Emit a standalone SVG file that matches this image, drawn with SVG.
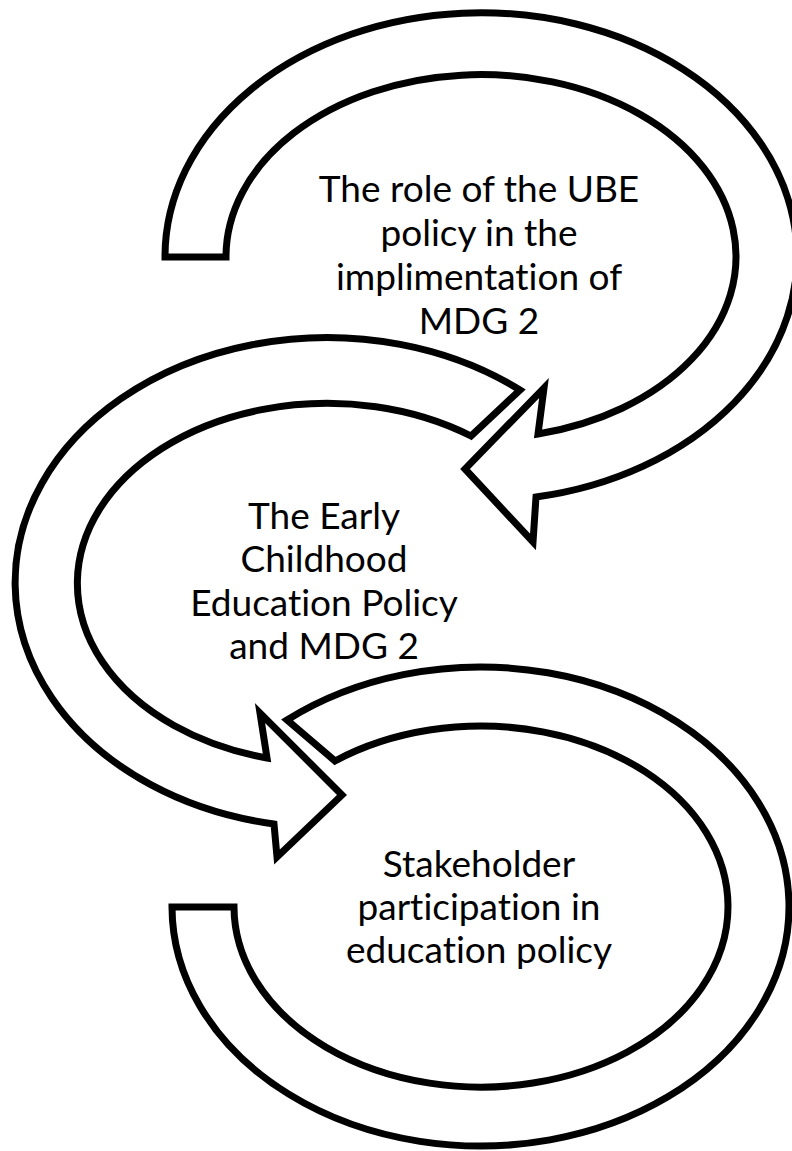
<svg xmlns="http://www.w3.org/2000/svg" width="792" height="1151" viewBox="0 0 792 1151">
<style>
.arrow{fill:#fff;stroke:#000;stroke-width:7;stroke-linejoin:miter;stroke-miterlimit:10}
.lbl{font-family:Lato,"Liberation Sans",sans-serif;font-size:37px;fill:#000;text-anchor:middle;font-variant-ligatures:none;font-feature-settings:"liga" 0,"clig" 0}
</style>
<rect width="792" height="1151" fill="#fff"/>
<g id="connectors">
<path id="arrow1" class="arrow" d="M165,257 A316,244 0 1 1 536,497 L533,542 L465,469 L544,388 L538,434 A255,182 0 1 0 226,257 Z"/>
<path id="arrow2" class="arrow" d="M520,390 A312,245 0 1 0 274,824 L277,857 L342,795 L260,713 L267,758 A250,180 0 1 1 471,436 Z"/>
<path id="arrow3" class="arrow" d="M287,720 A308.5,239.5 0 1 1 172,907 L234,907 A247,180.5 0 1 0 335,761 Z"/>
</g>
<g id="node1">
<text class="lbl" x="479" y="202">The role of the UBE</text>
<text class="lbl" x="479" y="246">policy in the</text>
<text class="lbl" x="479" y="290">implimentation of</text>
<text class="lbl" x="479" y="334">MDG 2</text>
</g>
<g id="node2">
<text class="lbl" x="324" y="529">The Early</text>
<text class="lbl" x="324" y="572">Childhood</text>
<text class="lbl" x="324" y="616">Education Policy</text>
<text class="lbl" x="324" y="659">and MDG 2</text>
</g>
<g id="node3">
<text class="lbl" x="479" y="877">Stakeholder</text>
<text class="lbl" x="479" y="920">participation in</text>
<text class="lbl" x="479" y="963">education policy</text>
</g>
</svg>
